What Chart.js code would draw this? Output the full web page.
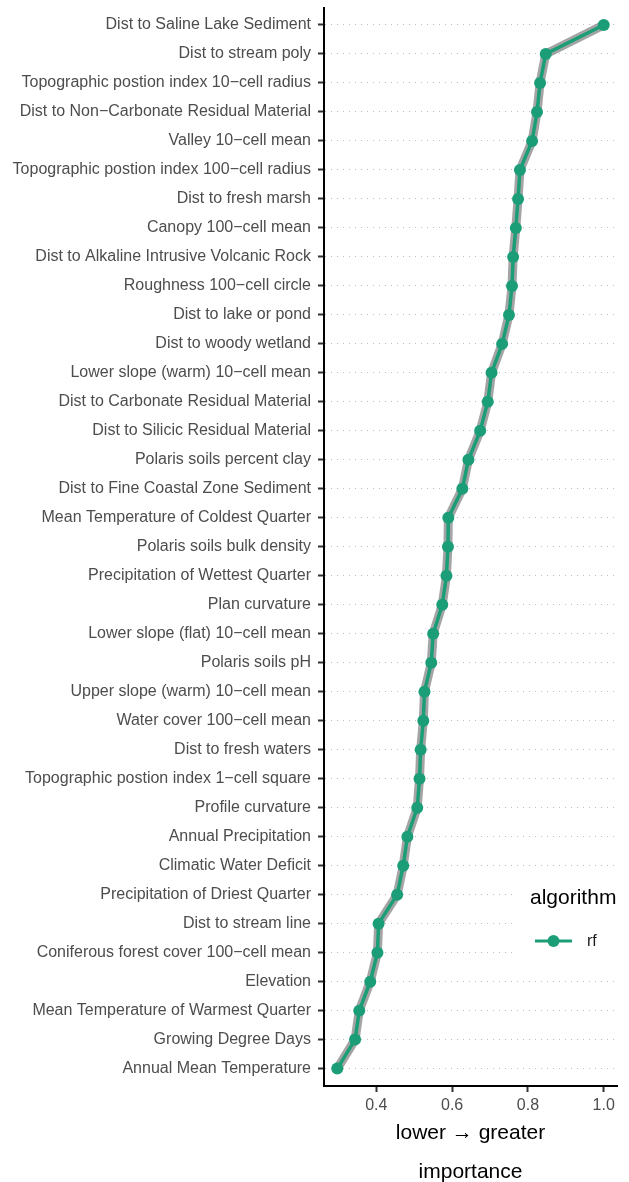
<!DOCTYPE html>
<html>
<head>
<meta charset="utf-8">
<script src="https://cdn.jsdelivr.net/npm/chart.js@4.4.1/dist/chart.umd.min.js"></script>
<style>
  html, body { margin: 0; padding: 0; background: #fff; }
  canvas { display: block; }
</style>
</head>
<body>
<canvas id="chart" width="629" height="1182"></canvas>
<script>
// ===== Data =====
const categories = [
  "Dist to Saline Lake Sediment",
  "Dist to stream poly",
  "Topographic postion index 10\u2212cell radius",
  "Dist to Non\u2212Carbonate Residual Material",
  "Valley 10\u2212cell mean",
  "Topographic postion index 100\u2212cell radius",
  "Dist to fresh marsh",
  "Canopy 100\u2212cell mean",
  "Dist to Alkaline Intrusive Volcanic Rock",
  "Roughness 100\u2212cell circle",
  "Dist to lake or pond",
  "Dist to woody wetland",
  "Lower slope (warm) 10\u2212cell mean",
  "Dist to Carbonate Residual Material",
  "Dist to Silicic Residual Material",
  "Polaris soils percent clay",
  "Dist to Fine Coastal Zone Sediment",
  "Mean Temperature of Coldest Quarter",
  "Polaris soils bulk density",
  "Precipitation of Wettest Quarter",
  "Plan curvature",
  "Lower slope (flat) 10\u2212cell mean",
  "Polaris soils pH",
  "Upper slope (warm) 10\u2212cell mean",
  "Water cover 100\u2212cell mean",
  "Dist to fresh waters",
  "Topographic postion index 1\u2212cell square",
  "Profile curvature",
  "Annual Precipitation",
  "Climatic Water Deficit",
  "Precipitation of Driest Quarter",
  "Dist to stream line",
  "Coniferous forest cover 100\u2212cell mean",
  "Elevation",
  "Mean Temperature of Warmest Quarter",
  "Growing Degree Days",
  "Annual Mean Temperature"
];

const rfImportance = [
  1.000, 0.847, 0.832, 0.824, 0.811, 0.779, 0.774, 0.768, 0.761, 0.758,
  0.750, 0.732, 0.704, 0.694, 0.674, 0.643, 0.627, 0.590, 0.589, 0.585,
  0.574, 0.550, 0.545, 0.527, 0.524, 0.517, 0.514, 0.508, 0.482, 0.471,
  0.455, 0.406, 0.403, 0.384, 0.355, 0.344, 0.297
];

const xTicks = [0.4, 0.6, 0.8, 1.0];
const seriesName = "rf";
const legendTitle = "algorithm";
const xTitle = ["lower \u2192 greater", "importance"];

// ===== Styles =====
const green = "#1b9e77";
const font = "'Liberation Sans', Arial, sans-serif";

const points = rfImportance.map((v, i) => ({ x: v, y: i }));

// legend drawn inside the panel, on a white box over the grid lines
const legendBox = {
  id: "legendBox",
  beforeDatasetsDraw(chart) {
    const ctx = chart.ctx;
    ctx.save();
    ctx.fillStyle = "#fff";
    ctx.fillRect(515, 878, 114, 90);
    ctx.fillStyle = "#000";
    ctx.textBaseline = "middle";
    ctx.textAlign = "left";
    ctx.font = "21px " + font;
    ctx.fillText(legendTitle, 530, 898);
    ctx.strokeStyle = green;
    ctx.lineWidth = 3;
    ctx.beginPath();
    ctx.moveTo(535, 941);
    ctx.lineTo(572, 941);
    ctx.stroke();
    ctx.fillStyle = green;
    ctx.beginPath();
    ctx.arc(553.5, 941, 6, 0, Math.PI * 2);
    ctx.fill();
    ctx.fillStyle = "#1a1a1a";
    ctx.font = "16px " + font;
    ctx.fillText(seriesName, 587, 942);
    ctx.restore();
  }
};

new Chart(document.getElementById("chart"), {
  type: "line",
  data: {
    datasets: [
      {
        label: seriesName,
        data: points,
        borderColor: green,
        borderWidth: 3.5,
        pointRadius: 6,
        pointHoverRadius: 6,
        pointBackgroundColor: green,
        pointBorderWidth: 0,
        tension: 0,
        order: 0
      },
      {
        label: "shadow",
        data: points,
        borderColor: "rgba(125,125,125,0.7)",
        borderWidth: 9,
        pointRadius: 0,
        tension: 0,
        order: 1
      }
    ]
  },
  options: {
    responsive: false,
    animation: false,
    devicePixelRatio: 1,
    layout: { padding: { top: 7.6, right: 12, left: 0, bottom: 0 } },
    plugins: {
      legend: { display: false },
      tooltip: { enabled: false }
    },
    scales: {
      x: {
        type: "linear",
        min: 0.262,
        max: 1.035,
        afterBuildTicks: (scale) => { scale.ticks = xTicks.map(v => ({ value: v })); },
        afterFit: (scale) => { scale.height = 96; },
        ticks: {
          color: "#4d4d4d",
          font: { family: font, size: 16 },
          padding: 4,
          callback: (v) => Number(v).toFixed(1)
        },
        grid: {
          drawOnChartArea: false,
          drawTicks: true,
          tickLength: 6,
          tickColor: "#333",
          tickWidth: 2
        },
        border: { display: true, color: "#000", width: 2 },
        title: {
          display: true,
          text: xTitle,
          color: "#000",
          font: { family: font, size: 21, lineHeight: 1.857 },
          padding: { top: 0, bottom: -10 }
        }
      },
      y: {
        type: "linear",
        reverse: true,
        min: -0.6,
        max: categories.length - 1 + 0.6,
        afterBuildTicks: (scale) => { scale.ticks = categories.map((c, i) => ({ value: i })); },
        afterFit: (scale) => {
          scale.width = 324;
          scale.paddingTop = 0;
          scale.paddingBottom = 0;
        },
        ticks: {
          color: "#4d4d4d",
          font: { family: font, size: 16 },
          padding: 7,
          callback: (v) => categories[v]
        },
        grid: {
          color: "#bdbdbd",
          lineWidth: 1,
          drawTicks: true,
          tickLength: 6,
          tickColor: "#333",
          tickWidth: 2,
          tickBorderDash: []
        },
        border: { display: true, color: "#000", width: 2, dash: [1, 5] }
      }
    }
  },
  plugins: [legendBox]
});
</script>
</body>
</html>
